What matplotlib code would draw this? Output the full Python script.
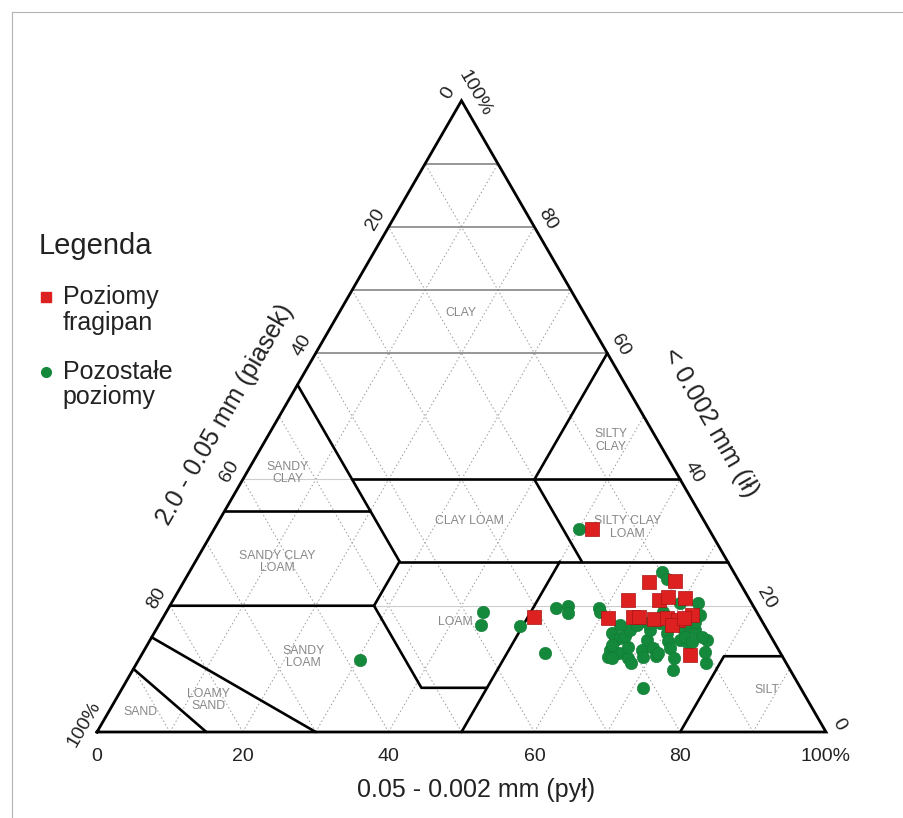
import numpy as np
import matplotlib.pyplot as plt
from matplotlib.lines import Line2D
from matplotlib.legend_handler import HandlerLine2D

plt.rcParams['font.family'] = ['Liberation Sans', 'DejaVu Sans']

# Texture data: silt (pył) and clay (ił) in %, sand = 100 - silt - clay
frag_silt = [51.9, 50.8, 63.9, 67.3, 62.4, 66.6, 67.6, 70.1, 61.1, 64.4,
             65.2, 67.5, 69.2, 70.9, 70.4, 72.4, 71.5, 75.2]
frag_clay = [32.1, 18.2, 23.7, 23.9, 20.9, 20.9, 21.4, 21.2, 18.0, 18.2,
             18.2, 17.9, 18.0, 17.7, 16.9, 18.5, 18.0, 12.2]

other_silt = [50.1, 43.4, 44.2, 49.6, 53.2, 54.7, 55.2, 59.1, 55.2, 64.9,
              66.1, 72.2, 73.5, 76.4, 78.1, 30.4, 71.4, 62.8, 63.8, 64.3,
              63.9, 64.2, 65.3, 67.0, 67.8, 66.1, 64.8, 65.1, 68.3, 68.1,
              67.8, 69.6, 70.7, 70.3, 71.1, 72.0, 73.3, 72.7, 72.5, 74.0,
              74.0, 75.5, 74.1, 70.4, 68.6, 67.0, 65.6, 63.3, 72.3, 73.3,
              69.8, 64.8, 69.0, 70.7, 73.2, 74.5, 77.0, 63.7, 59.5, 68.1]
other_clay = [32.1, 19.0, 16.9, 16.8, 19.6, 19.9, 18.8, 19.6, 12.5, 25.3,
              24.2, 20.4, 18.5, 14.6, 10.9, 11.4, 7.0, 15.7, 14.6, 14.9,
              13.0, 11.9, 12.5, 11.7, 10.9, 13.4, 15.2, 16.1, 13.0, 14.6,
              16.1, 13.3, 12.0, 15.7, 14.4, 13.3, 11.7, 14.6, 16.1, 14.1,
              16.1, 15.0, 9.8, 17.2, 17.2, 17.2, 16.9, 16.9, 17.2, 17.4,
              20.4, 11.7, 11.9, 12.5, 15.0, 14.2, 12.7, 13.8, 19.0, 19.0]

ticks = [0, 20, 40, 60, 80, 100]
tick_labels = ['0', '20', '40', '60', '80', '100%']

# USDA texture classes (label positions as silt, clay)
class_names = ['CLAY', 'SILTY\nCLAY', 'SANDY\nCLAY', 'CLAY LOAM', 'SILTY CLAY\nLOAM',
               'SANDY CLAY\nLOAM', 'LOAM', 'SANDY\nLOAM', 'LOAMY\nSAND', 'SAND', 'SILT']
class_silt = [16.7, 47.4, 5.7, 34.4, 56.6, 11.3, 40.5, 22.4, 12.7, 4.3, 88.6]
class_clay = [66.3, 46.2, 41.0, 33.5, 32.4, 26.9, 17.4, 11.9, 5.1, 3.2, 6.6]

# class boundaries, polylines of (silt, clay)
boundaries = [
    [(0, 55), (15, 40), (20, 35), (28, 27)],
    [(15, 40), (60, 40)],
    [(40, 40), (40, 60)],
    [(0, 35), (20, 35)],
    [(28, 27), (73, 27)],
    [(40, 40), (53, 27)],
    [(0, 20), (28, 20), (28, 27)],
    [(28, 20), (41, 7), (50, 7)],
    [(50, 0), (50, 27)],
    [(80, 0), (80, 12), (88, 12)],
    [(0, 15), (30, 0)],
    [(0, 10), (15, 0)],
]

H = np.sqrt(3) / 2


def tern(silt, clay):
    silt = np.asarray(silt, dtype=float)
    clay = np.asarray(clay, dtype=float)
    return silt + clay / 2, clay * H


class FirstLineHandler(HandlerLine2D):
    # put the legend marker next to the first line of a two-line label
    def create_artists(self, *args, **kwargs):
        arts = super().create_artists(*args, **kwargs)
        for a in arts:
            a.set_ydata(np.asarray(a.get_ydata()) + 9.5)
        return arts


fig = plt.figure(figsize=(9.04, 8.18), dpi=100)
ax = fig.add_axes([0, 0, 1, 1])
scale = 7.29  # pixels per percent
ax.set_xlim(-97 / scale, (904 - 97) / scale)
ax.set_ylim(-(818 - 732) / scale, 732 / scale)
ax.axis('off')

# thin frame at top and left
fig.add_artist(Line2D([12 / 904, 1], [1 - 12 / 818, 1 - 12 / 818], color='#b5b5b5', lw=0.8))
fig.add_artist(Line2D([12 / 904, 12 / 904], [0, 1 - 12 / 818], color='#b5b5b5', lw=0.8))

# grid
dots = dict(color='#999999', lw=0.7, ls=(0, (1.5, 2.5)), zorder=1)
for v in range(10, 100, 10):
    x, y = tern([100 - v, 0], [0, 100 - v])   # sand = v
    ax.plot(x, y, **dots)
    x, y = tern([v, v], [0, 100 - v])         # silt = v
    ax.plot(x, y, **dots)
for v in [20, 40]:
    x, y = tern([0, 100 - v], [v, v])
    ax.plot(x, y, color='#cccccc', lw=0.8, zorder=1)
for v in [60, 70, 80, 90]:
    x, y = tern([0, 100 - v], [v, v])
    ax.plot(x, y, color='#7a7a7a', lw=1.1, zorder=1)

# class boundaries and outline
for line in boundaries:
    s, c = zip(*line)
    x, y = tern(s, c)
    ax.plot(x, y, color='black', lw=1.9, solid_capstyle='round', zorder=2)
x, y = tern([0, 100, 0, 0], [0, 0, 100, 0])
ax.plot(x, y, color='black', lw=2.0, solid_joinstyle='miter', zorder=3)

for name, s, c in zip(class_names, class_silt, class_clay):
    x, y = tern(s, c)
    ax.text(x, y, name, ha='center', va='center', fontsize=8.8, color='#888888',
            linespacing=1.05, zorder=2)

# tick labels
tc = '#222222'
d = 2.1
for t, lab in zip(ticks, tick_labels):
    ax.text(t, -3.4, lab, ha='center', va='center', fontsize=14, color=tc)
    # sand on left edge
    x, y = tern(0, 100 - t)
    ax.text(x - d * H, y + d * 0.5, lab, ha='center', va='center', fontsize=14,
            color=tc, rotation=60, rotation_mode='anchor')
    # clay on right edge
    x, y = tern(100 - t, t)
    ax.text(x + d * H, y + d * 0.5, lab, ha='center', va='center', fontsize=14,
            color=tc, rotation=-60, rotation_mode='anchor')

ax.text(17.6, 43.5, '2.0 - 0.05 mm (piasek)', ha='center', va='center',
        fontsize=18, color=tc, rotation=60, rotation_mode='anchor')
ax.text(84.1, 42.5, '< 0.002 mm (ił)', ha='center', va='center',
        fontsize=18, color=tc, rotation=-60, rotation_mode='anchor')
ax.text(52.0, -7.96, '0.05 - 0.002 mm (pył)', ha='center', va='center',
        fontsize=18, color=tc)

# data
red = '#dd2020'
green = '#14893c'
x, y = tern(other_silt, other_clay)
ax.scatter(x, y, s=80, marker='o', color=green, edgecolors='#0f7a33', linewidths=0.4, zorder=4)
x, y = tern(frag_silt, frag_clay)
ax.scatter(x, y, s=88, marker='s', color=red, edgecolors='#a81414', linewidths=0.5, zorder=5)

handles = [Line2D([], [], marker='s', ls='', color=red, ms=7.5),
           Line2D([], [], marker='o', ls='', color=green, ms=7)]
leg = fig.legend(handles, ['Poziomy\nfragipan', 'Pozostałe\npoziomy'], title='Legenda',
                 loc='upper left', bbox_to_anchor=(39 / 904, 1 - 232 / 818),
                 frameon=False, fontsize=18, title_fontsize=21, alignment='left',
                 handlelength=0.6, handletextpad=0.35, labelspacing=1.0,
                 borderpad=0, borderaxespad=0,
                 handler_map={Line2D: FirstLineHandler()})
for t in leg.get_texts():
    t.set_linespacing(1.08)
    t.set_color(tc)
leg.get_title().set_color(tc)

fig.savefig('out.png', dpi=100)
